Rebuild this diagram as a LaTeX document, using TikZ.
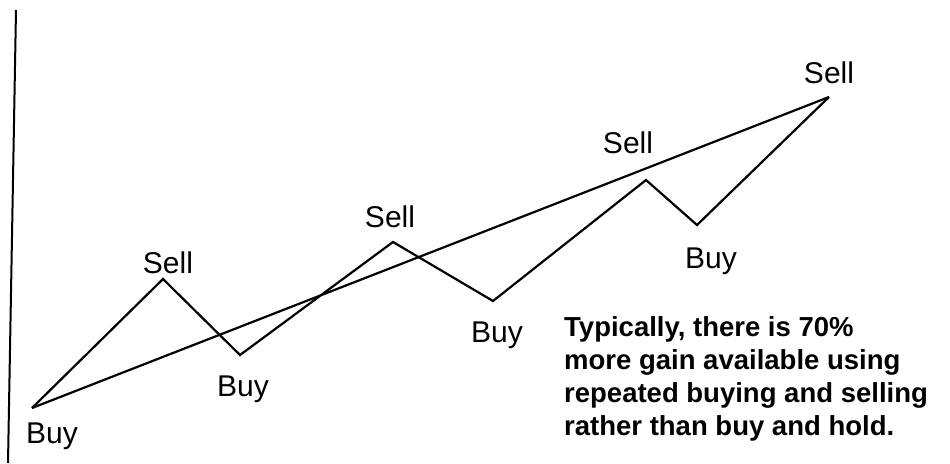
\documentclass[tikz,border=0pt]{standalone}
\usepackage{fontspec}
\setmainfont{Liberation Sans}
\usetikzlibrary{positioning}

\tikzset{
    trend/.style={line width=2.2pt, line join=miter},
    lbl/.style={font=\fontsize{30}{34}\selectfont, inner sep=0pt, anchor=base}
}

\begin{document}
\begin{tikzpicture}[x=1pt, y=-1pt]
        \useasboundingbox (0,0) rectangle (950,463);

        % axis
        \coordinate (axtop) at (16,10);
        \coordinate (axbot) at (8,463);
        \draw [line width=2pt] (axtop) -- (axbot);

        % turning points
        \coordinate (p0) at (32,408);
        \coordinate (p1) at (163,279);
        \coordinate (p2) at (240,355);
        \coordinate (p3) at (393,242);
        \coordinate (p4) at (493,301);
        \coordinate (p5) at (646,180);
        \coordinate (p6) at (697,225);
        \coordinate (p7) at (829,97);

\draw [trend] (p0) -- (p1) -- (p2) -- (p3) -- (p4) -- (p5) -- (p6) -- (p7);

\draw [trend] (p0) -- (p7);

\node (buy0) [lbl] at (52,443) {Buy};
\node (sell1) [lbl] at (168,273) {Sell};
\node (buy1) [lbl] at (243,396) {Buy};
\node (sell2) [lbl] at (390,227) {Sell};
\node (buy2) [lbl] at (497,342) {Buy};
\node (sell3) [lbl] at (628,153) {Sell};
\node (buy3) [lbl] at (711,268) {Buy};
\node (sell4) [lbl] at (829,83) {Sell};

\node (note) [anchor=north west, align=left, inner sep=0pt, font=\bfseries\fontsize{27.5}{33}\selectfont] at (564,316) {Typically, there is 70\%\\more gain available using\\repeated buying and selling\\rather than buy and hold.};
    \end{tikzpicture}
\end{document}
